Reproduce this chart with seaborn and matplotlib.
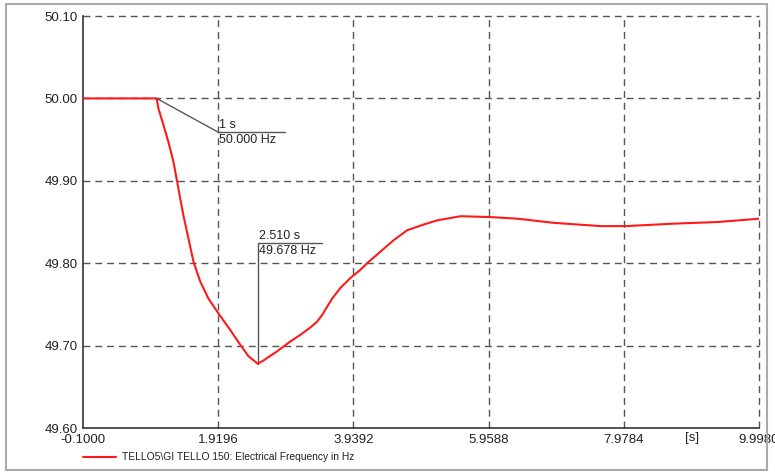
import matplotlib
matplotlib.use("Agg")
import matplotlib.pyplot as plt
import seaborn as sns
import pandas as pd
from matplotlib.patches import Rectangle

time_s = [-0.1, 1.0, 1.026, 1.101, 1.176, 1.251, 1.302, 1.351, 1.400, 1.475, 1.550, 1.650,
          1.774, 1.924, 2.099, 2.249, 2.373, 2.51, 2.597, 2.798, 2.997, 3.146, 3.296,
          3.396, 3.471, 3.546, 3.621, 3.745, 3.894, 4.044, 4.144, 4.343, 4.542, 4.742,
          4.991, 5.191, 5.54, 5.988, 6.392, 6.93, 7.634, 8.008, 8.726, 9.384, 9.998]
freq_hz = [50.0, 50.0, 49.988, 49.968, 49.947, 49.923, 49.901, 49.879, 49.858, 49.830,
           49.802, 49.778, 49.757, 49.739, 49.719, 49.701, 49.687, 49.678, 49.682, 49.693,
           49.705, 49.713, 49.722, 49.729, 49.737, 49.747, 49.757, 49.770, 49.782, 49.792,
           49.800, 49.814, 49.828, 49.840, 49.847, 49.852, 49.857, 49.856, 49.854, 49.849,
           49.845, 49.845, 49.848, 49.850, 49.854]
x_ticks = [-0.1000, 1.9196, 3.9392, 5.9588, 7.9784, 9.9980]
y_ticks = [49.60, 49.70, 49.80, 49.90, 50.00, 50.10]
series_label = "TELLO5\\GI TELLO 150: Electrical Frequency in Hz"
marker1 = (1.0, 50.000)
marker2 = (2.510, 49.678)

sns.set_style("white")
plt.rcParams['font.family'] = ['Liberation Sans', 'DejaVu Sans']

df = pd.DataFrame({"t": time_s, "f": freq_hz})

fig = plt.figure(figsize=(7.75, 4.73), dpi=100)
ax = fig.add_axes([83/775, 1-428/473, (759-83)/775, (428-16)/473])

sns.lineplot(data=df, x="t", y="f", ax=ax, color="#ff1a1a", linewidth=1.5, legend=False,
             zorder=3)

ax.set_xlim(x_ticks[0], x_ticks[-1])
ax.set_ylim(y_ticks[0], y_ticks[-1])
ax.set_xticks(x_ticks)
ax.set_xticklabels([f"{v:.4f}" for v in x_ticks])
ax.set_yticks(y_ticks)
ax.set_yticklabels([f"{v:.2f}" for v in y_ticks])
ax.set_xticks([(x_ticks[i] + x_ticks[i+1]) / 2 for i in range(len(x_ticks)-1)], minor=True)
ax.set_yticks([(y_ticks[i] + y_ticks[i+1]) / 2 for i in range(len(y_ticks)-1)], minor=True)
ax.tick_params(axis="both", which="major", labelsize=9.5, length=3, width=1, color="#333333",
               direction="out", labelcolor="#222222", pad=1)
ax.tick_params(axis="both", which="minor", length=3, width=1, color="#333333", direction="in")
ax.set_xlabel("")
ax.set_ylabel("")

for s in ["top", "right"]:
    ax.spines[s].set_visible(False)
for s in ["left", "bottom"]:
    ax.spines[s].set_color("#333333")
    ax.spines[s].set_linewidth(1.2)

grid_kw = dict(color="#555555", linewidth=1, linestyle=(0, (5, 3.5)), zorder=1, clip_on=False)
for xv in x_ticks[1:]:
    ax.axvline(xv, **grid_kw)
for yv in y_ticks[1:]:
    ax.axhline(yv, **grid_kw)

# annotation 1
ann_col = "#555555"
ax.plot([marker1[0], 1.9196], [marker1[1], 49.959], color=ann_col, linewidth=1)
ax.plot([1.9196, 2.92], [49.959, 49.959], color=ann_col, linewidth=1)
ax.text(1.935, 49.961, f"{marker1[0]:g} s", fontsize=9, color="#222222", va="bottom", ha="left")
ax.text(1.935, 49.957, f"{marker1[1]:.3f} Hz", fontsize=9, color="#222222", va="top", ha="left")

# annotation 2
ax.plot([marker2[0], marker2[0]], [marker2[1], 49.824], color=ann_col, linewidth=1)
ax.plot([marker2[0], 3.47], [49.824, 49.824], color=ann_col, linewidth=1)
ax.text(2.53, 49.826, f"{marker2[0]:.3f} s", fontsize=9, color="#222222", va="bottom", ha="left")
ax.text(2.53, 49.822, f"{marker2[1]:.3f} Hz", fontsize=9, color="#222222", va="top", ha="left")

# axis unit label
fig.text(692/775, 1-438/473, "[s]", fontsize=9.5, color="#222222", ha="center", va="center")

# legend
fig.lines.append(plt.Line2D([83/775, 116/775], [1-457/473, 1-457/473], color="#ff1a1a",
                            linewidth=1.5, transform=fig.transFigure))
fig.text(122/775, 1-457/473, series_label, fontsize=7.4, color="#222222", ha="left", va="center")

# outer frame
fig.patches.append(Rectangle((6/775, 3/473), (767-6)/775, (469-3)/473, fill=False,
                             edgecolor="#aaaaaa", linewidth=1.5, transform=fig.transFigure))

fig.savefig("out.png", dpi=100)
